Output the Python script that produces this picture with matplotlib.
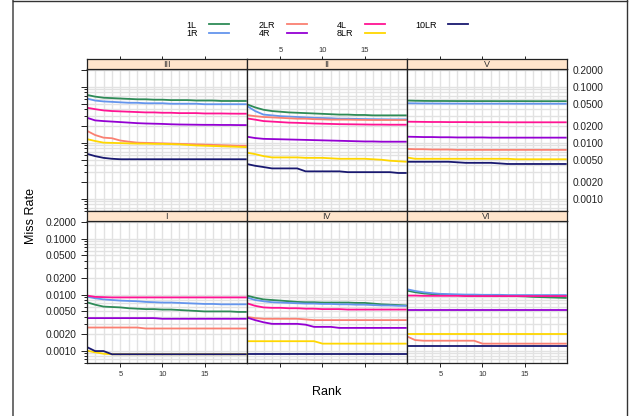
import numpy as np
import matplotlib.pyplot as plt
from matplotlib.lines import Line2D
from matplotlib.ticker import FixedLocator, FixedFormatter, NullFormatter

plt.rcParams['font.family'] = ['Liberation Sans', 'DejaVu Sans']

rank = np.arange(1, 21)
series = ['1L', '1R', '2LR', '4L', '4R', '8LR', '10LR']
colors = ['#2E8B57', '#6495ED', '#FA8072', '#FF1493', '#9400D3', '#FFD700', '#191970']
panel_names = ['III', 'II', 'V', 'I', 'IV', 'VI']
ytick_vals = [0.001, 0.002, 0.005, 0.01, 0.02, 0.05, 0.1, 0.2]
ytick_text = ['0.0010', '0.0020', '0.0050', '0.0100', '0.0200', '0.0500', '0.1000', '0.2000']
xtick_vals = [5, 10, 15]

# miss rate by rank, one row per series (same order as `series`)
III = [
    [0.072, 0.067, 0.064, 0.063, 0.062, 0.061, 0.060, 0.060, 0.059, 0.059, 0.058, 0.058, 0.058, 0.057, 0.057, 0.057, 0.056, 0.056, 0.056, 0.056],
    [0.062, 0.057, 0.055, 0.054, 0.053, 0.052, 0.052, 0.051, 0.051, 0.051, 0.050, 0.050, 0.050, 0.050, 0.049, 0.049, 0.049, 0.049, 0.049, 0.049],
    [0.0165, 0.0138, 0.0124, 0.0121, 0.0110, 0.0105, 0.0101, 0.0100, 0.0099, 0.0098, 0.0097, 0.0096, 0.0095, 0.0094, 0.0093, 0.0092, 0.0091, 0.0090, 0.0089, 0.0089],
    [0.0425, 0.040, 0.038, 0.037, 0.0365, 0.036, 0.0355, 0.035, 0.035, 0.0345, 0.0345, 0.034, 0.034, 0.034, 0.0335, 0.0335, 0.0335, 0.0333, 0.0332, 0.0332],
    [0.0282, 0.0252, 0.0245, 0.0240, 0.0235, 0.0230, 0.0225, 0.0222, 0.0220, 0.0218, 0.0215, 0.0213, 0.0212, 0.0211, 0.0210, 0.0210, 0.0209, 0.0209, 0.0208, 0.0208],
    [0.0117, 0.0108, 0.0101, 0.0100, 0.0099, 0.0098, 0.0097, 0.0097, 0.0096, 0.0096, 0.0095, 0.0094, 0.0092, 0.0090, 0.0089, 0.0088, 0.0087, 0.0086, 0.0085, 0.0084],
    [0.0064, 0.0058, 0.0054, 0.0052, 0.0051, 0.0051, 0.0051, 0.0051, 0.0051, 0.0051, 0.0051, 0.0051, 0.0051, 0.0051, 0.0051, 0.0051, 0.0051, 0.0051, 0.0051, 0.0051],
]
II = [
    [0.049, 0.043, 0.039, 0.037, 0.036, 0.035, 0.0345, 0.034, 0.0335, 0.033, 0.0325, 0.032, 0.032, 0.0315, 0.0315, 0.031, 0.031, 0.031, 0.031, 0.031],
    [0.046, 0.037, 0.032, 0.031, 0.030, 0.0295, 0.029, 0.0285, 0.028, 0.0278, 0.0275, 0.027, 0.027, 0.0268, 0.0266, 0.0265, 0.0264, 0.0263, 0.0263, 0.0263],
    [0.0314, 0.030, 0.029, 0.0285, 0.028, 0.0275, 0.027, 0.027, 0.0265, 0.0263, 0.026, 0.026, 0.026, 0.0258, 0.0257, 0.0256, 0.0256, 0.0256, 0.0256, 0.0256],
    [0.0274, 0.026, 0.0245, 0.024, 0.0235, 0.023, 0.0228, 0.0225, 0.0222, 0.022, 0.0218, 0.0216, 0.0215, 0.0214, 0.0213, 0.0212, 0.0212, 0.0211, 0.0211, 0.0211],
    [0.0129, 0.0122, 0.0118, 0.0117, 0.0116, 0.0115, 0.0114, 0.0113, 0.0112, 0.0111, 0.0110, 0.0109, 0.0108, 0.0107, 0.0106, 0.0106, 0.0105, 0.0105, 0.0105, 0.0105],
    [0.0067, 0.0063, 0.0058, 0.0055, 0.0055, 0.0055, 0.0055, 0.0054, 0.0054, 0.0054, 0.0053, 0.0052, 0.0052, 0.0052, 0.0052, 0.0051, 0.0050, 0.0048, 0.0047, 0.0046],
    [0.0042, 0.0039, 0.0037, 0.0035, 0.0035, 0.0035, 0.0035, 0.0031, 0.0031, 0.0031, 0.0031, 0.0031, 0.0030, 0.0030, 0.0030, 0.0030, 0.0030, 0.0030, 0.0029, 0.0029],
]
V = [
    [0.0570, 0.0565, 0.0562, 0.0560, 0.0560, 0.0559, 0.0558, 0.0558, 0.0557, 0.0557, 0.0557, 0.0556, 0.0556, 0.0556, 0.0556, 0.0555, 0.0555, 0.0555, 0.0555, 0.0555],
    [0.0510, 0.0508, 0.0506, 0.0505, 0.0504, 0.0503, 0.0503, 0.0502, 0.0502, 0.0502, 0.0501, 0.0501, 0.0501, 0.0500, 0.0500, 0.0500, 0.0500, 0.0500, 0.0500, 0.0500],
    [0.0078, 0.0077, 0.0077, 0.0076, 0.0076, 0.0076, 0.0075, 0.0075, 0.0075, 0.0075, 0.0075, 0.0075, 0.0075, 0.0075, 0.0075, 0.0075, 0.0075, 0.0075, 0.0075, 0.0075],
    [0.0239, 0.0238, 0.0237, 0.0236, 0.0236, 0.0235, 0.0235, 0.0235, 0.0234, 0.0234, 0.0234, 0.0234, 0.0233, 0.0233, 0.0233, 0.0233, 0.0233, 0.0233, 0.0233, 0.0233],
    [0.0129, 0.0128, 0.0127, 0.0127, 0.0126, 0.0126, 0.0125, 0.0125, 0.0125, 0.0125, 0.0124, 0.0124, 0.0124, 0.0124, 0.0124, 0.0124, 0.0124, 0.0124, 0.0124, 0.0124],
    [0.0055, 0.0052, 0.0052, 0.0052, 0.0052, 0.0052, 0.0052, 0.0052, 0.0052, 0.0052, 0.0052, 0.0052, 0.0052, 0.0051, 0.0051, 0.0051, 0.0051, 0.0051, 0.0051, 0.0051],
    [0.0046, 0.0046, 0.0046, 0.0046, 0.0046, 0.0046, 0.0045, 0.0044, 0.0044, 0.0044, 0.0044, 0.0043, 0.0042, 0.0042, 0.0042, 0.0042, 0.0042, 0.0042, 0.0042, 0.0042],
]
I = [
    [0.0073, 0.0066, 0.0061, 0.0060, 0.0059, 0.0057, 0.0056, 0.0055, 0.0055, 0.0054, 0.0054, 0.0053, 0.0052, 0.0051, 0.0050, 0.0050, 0.0050, 0.0050, 0.0049, 0.0049],
    [0.0092, 0.0086, 0.0082, 0.0080, 0.0078, 0.0077, 0.0076, 0.0074, 0.0073, 0.0072, 0.0072, 0.0071, 0.0070, 0.0069, 0.0068, 0.0068, 0.0067, 0.0067, 0.0067, 0.0067],
    [0.00258, 0.00258, 0.00258, 0.00258, 0.00258, 0.00258, 0.00258, 0.00248, 0.00248, 0.00248, 0.00248, 0.00248, 0.00248, 0.00248, 0.00248, 0.00248, 0.00248, 0.00248, 0.00248, 0.00248],
    [0.0096, 0.0091, 0.0090, 0.0089, 0.0089, 0.0089, 0.0089, 0.0089, 0.0089, 0.0089, 0.0089, 0.0089, 0.0089, 0.0089, 0.0089, 0.0089, 0.0089, 0.0089, 0.0089, 0.0089],
    [0.0038, 0.0038, 0.0038, 0.0038, 0.0038, 0.0038, 0.0038, 0.0038, 0.0038, 0.0037, 0.0037, 0.0037, 0.0037, 0.0037, 0.0037, 0.0037, 0.0037, 0.0037, 0.0037, 0.0037],
    [0.00100, 0.00093, 0.00088, 0.00086, 0.00086, 0.00086, 0.00086, 0.00086, 0.00086, 0.00086, 0.00086, 0.00086, 0.00086, 0.00086, 0.00086, 0.00086, 0.00086, 0.00086, 0.00086, 0.00086],
    [0.00116, 0.00098, 0.00098, 0.00086, 0.00086, 0.00086, 0.00086, 0.00086, 0.00086, 0.00086, 0.00086, 0.00086, 0.00086, 0.00086, 0.00086, 0.00086, 0.00086, 0.00086, 0.00086, 0.00086],
]
IV = [
    [0.0096, 0.0088, 0.0082, 0.0080, 0.0078, 0.0076, 0.0074, 0.0073, 0.0073, 0.0072, 0.0072, 0.0072, 0.0072, 0.0071, 0.0071, 0.0069, 0.0067, 0.0066, 0.0065, 0.0064],
    [0.0089, 0.0080, 0.0076, 0.0073, 0.0072, 0.0071, 0.0070, 0.0069, 0.0069, 0.0068, 0.0068, 0.0067, 0.0067, 0.0066, 0.0066, 0.0065, 0.0064, 0.0064, 0.0063, 0.0063],
    [0.0040, 0.0038, 0.0037, 0.0037, 0.0037, 0.0037, 0.0037, 0.0036, 0.0035, 0.0035, 0.0035, 0.0035, 0.0035, 0.0035, 0.0035, 0.0035, 0.0035, 0.0035, 0.0035, 0.0035],
    [0.0070, 0.0063, 0.0059, 0.0058, 0.0058, 0.0057, 0.0057, 0.0056, 0.0056, 0.0055, 0.0055, 0.0055, 0.0054, 0.0054, 0.0054, 0.0054, 0.0054, 0.0054, 0.0054, 0.0054],
    [0.0039, 0.0035, 0.0032, 0.0030, 0.0030, 0.0030, 0.0030, 0.0029, 0.00265, 0.00265, 0.00265, 0.00254, 0.00254, 0.00254, 0.00254, 0.00254, 0.00254, 0.00254, 0.00254, 0.00254],
    [0.00147, 0.00147, 0.00147, 0.00147, 0.00147, 0.00147, 0.00147, 0.00147, 0.00147, 0.00133, 0.00133, 0.00133, 0.00133, 0.00133, 0.00133, 0.00133, 0.00133, 0.00133, 0.00133, 0.00133],
    [0.00086, 0.00086, 0.00086, 0.00086, 0.00086, 0.00086, 0.00086, 0.00086, 0.00086, 0.00086, 0.00086, 0.00086, 0.00086, 0.00086, 0.00086, 0.00086, 0.00086, 0.00086, 0.00086, 0.00086],
]
VI = [
    [0.0118, 0.0110, 0.0105, 0.0102, 0.0100, 0.0099, 0.0098, 0.0097, 0.0096, 0.0096, 0.0096, 0.0095, 0.0095, 0.0094, 0.0093, 0.0091, 0.0090, 0.0089, 0.0088, 0.0087],
    [0.0125, 0.0116, 0.0110, 0.0106, 0.0103, 0.0102, 0.0101, 0.0100, 0.0100, 0.0099, 0.0099, 0.0099, 0.0098, 0.0098, 0.0098, 0.0098, 0.0098, 0.0098, 0.0098, 0.0098],
    [0.0018, 0.00154, 0.0015, 0.0015, 0.0015, 0.0015, 0.0015, 0.0015, 0.0015, 0.00133, 0.00133, 0.00133, 0.00133, 0.00133, 0.00133, 0.00133, 0.00133, 0.00133, 0.00133, 0.00133],
    [0.0096, 0.0096, 0.0095, 0.0095, 0.0095, 0.0095, 0.0095, 0.0094, 0.0094, 0.0094, 0.0094, 0.0094, 0.0094, 0.0094, 0.0094, 0.0094, 0.0094, 0.0094, 0.0094, 0.0094],
    [0.0053, 0.0053, 0.0053, 0.0053, 0.0053, 0.0053, 0.0053, 0.0053, 0.0053, 0.0053, 0.0053, 0.0053, 0.0053, 0.0053, 0.0053, 0.0053, 0.0053, 0.0053, 0.0053, 0.0053],
    [0.00195, 0.00195, 0.00195, 0.00195, 0.00195, 0.00195, 0.00195, 0.00195, 0.00195, 0.00195, 0.00195, 0.00195, 0.00195, 0.00195, 0.00195, 0.00195, 0.00195, 0.00195, 0.00195, 0.00195],
    [0.00122, 0.00122, 0.00122, 0.00122, 0.00122, 0.00122, 0.00122, 0.00122, 0.00122, 0.00122, 0.00122, 0.00122, 0.00122, 0.00122, 0.00122, 0.00122, 0.00122, 0.00122, 0.00122, 0.00122],
]
panels = [III, II, V, I, IV, VI]

# key entries, filled column by column, two rows
legend_order = ['1L', '1R', '2LR', '4R', '4L', '8LR', '10LR']

W, H = 632.0, 416.0
fig = plt.figure(figsize=(W / 100, H / 100), dpi=100)

col_left = [86.7, 246.7, 406.7]
col_w = 160.0
row_top = [69.3, 221.0]
row_h = 142.0
strip_h = 10.0
grid_c = '#E2E2E2'
axis_c = '#222222'

ylo, yhi = 0.0006, 0.206
hgrid = [m * 10.0 ** e for e in range(-4, 0) for m in range(1, 10)]
minor_y = [v for v in hgrid if ylo < v < yhi and v not in ytick_vals]

for i, name in enumerate(panel_names):
    r, c = divmod(i, 3)
    ax = fig.add_axes([col_left[c] / W, 1 - (row_top[r] + row_h) / H, col_w / W, row_h / H])
    sax = fig.add_axes([col_left[c] / W, 1 - row_top[r] / H, col_w / W, strip_h / H])

    ax.set_yscale('log')
    for xv in rank:
        ax.axvline(xv, color=grid_c, lw=1.0, zorder=0)
    for yv in hgrid:
        ax.axhline(yv, color=grid_c, lw=1.0, zorder=0)

    for s, col, vals in zip(series, colors, panels[i]):
        ax.plot(rank, vals, color=col, lw=1.3, solid_capstyle='butt', zorder=2)

    ax.set_xlim(1, 20)
    ax.set_ylim(ylo, yhi)

    ax.set_xticks(xtick_vals)
    ax.tick_params(axis='x', which='both', top=False, bottom=(r == 1),
                   labelbottom=(r == 1 and c != 1), direction='out',
                   length=3, width=0.7, labelsize=5.5, pad=3,
                   color=axis_c, labelcolor='#333333')

    ax.yaxis.set_major_locator(FixedLocator(ytick_vals))
    ax.yaxis.set_major_formatter(FixedFormatter(ytick_text))
    ax.yaxis.set_minor_locator(FixedLocator(minor_y))
    ax.yaxis.set_minor_formatter(NullFormatter())
    ax.tick_params(axis='y', which='both', left=(c == 0), right=False,
                   labelleft=(c == 0 and r == 1), labelright=(c == 2 and r == 0),
                   direction='out', width=0.7, labelsize=7.3, color=axis_c,
                   labelcolor='#222222', pad=3)
    ax.tick_params(axis='y', which='major', length=4)
    ax.tick_params(axis='y', which='minor', length=2)
    if c == 2 and r == 0:
        ax.tick_params(axis='y', which='major', pad=0.3)
    for sp in ax.spines.values():
        sp.set_color(axis_c)
        sp.set_linewidth(0.9)

    sax.set_facecolor('#FFE5CC')
    sax.set_xlim(1, 20)
    sax.set_yticks([])
    sax.set_xticks(xtick_vals)
    sax.tick_params(axis='x', bottom=False, labelbottom=False, top=(r == 0),
                    labeltop=(r == 0 and c == 1), direction='out', length=2.5,
                    width=0.7, labelsize=5.5, pad=1, color=axis_c,
                    labelcolor='#333333')
    for sp in sax.spines.values():
        sp.set_color(axis_c)
        sp.set_linewidth(0.9)
    sax.text(0.5, 0.45, name, transform=sax.transAxes, ha='center', va='center',
             fontsize=6.5, color='#333333')

fig.text(30.5 / W, 1 - 216 / H, 'Miss Rate', rotation=90, ha='center', va='center', fontsize=9)
fig.text(326.3 / W, 1 - 392 / H, 'Rank', ha='center', va='center', fontsize=9)

# key above the panels
text_x = [186, 259, 337, 415]
line_x = [209, 287, 365, 448]
row_y = [25, 34]
for k, lab in enumerate(legend_order):
    cc, rr = divmod(k, 2)
    col = colors[series.index(lab)]
    y = 1 - row_y[rr] / H
    fig.text(text_x[cc] / W, y, lab, ha='left', va='center', fontsize=6.5)
    fig.add_artist(Line2D([line_x[cc] / W, (line_x[cc] + 20) / W], [y + 0.7 / H, y + 0.7 / H],
                          color=col, lw=1.3))

# outer frame
fig.add_artist(Line2D([12.5 / W, 12.5 / W], [0, 1], color='#555555', lw=1.2))
fig.add_artist(Line2D([12.5 / W, 627 / W], [1 - 0.5 / H, 1 - 0.5 / H], color='#333333', lw=1.0))
fig.add_artist(Line2D([627 / W, 627 / W], [0, 1], color='#333333', lw=1.0))

fig.savefig('out.png', dpi=100)
